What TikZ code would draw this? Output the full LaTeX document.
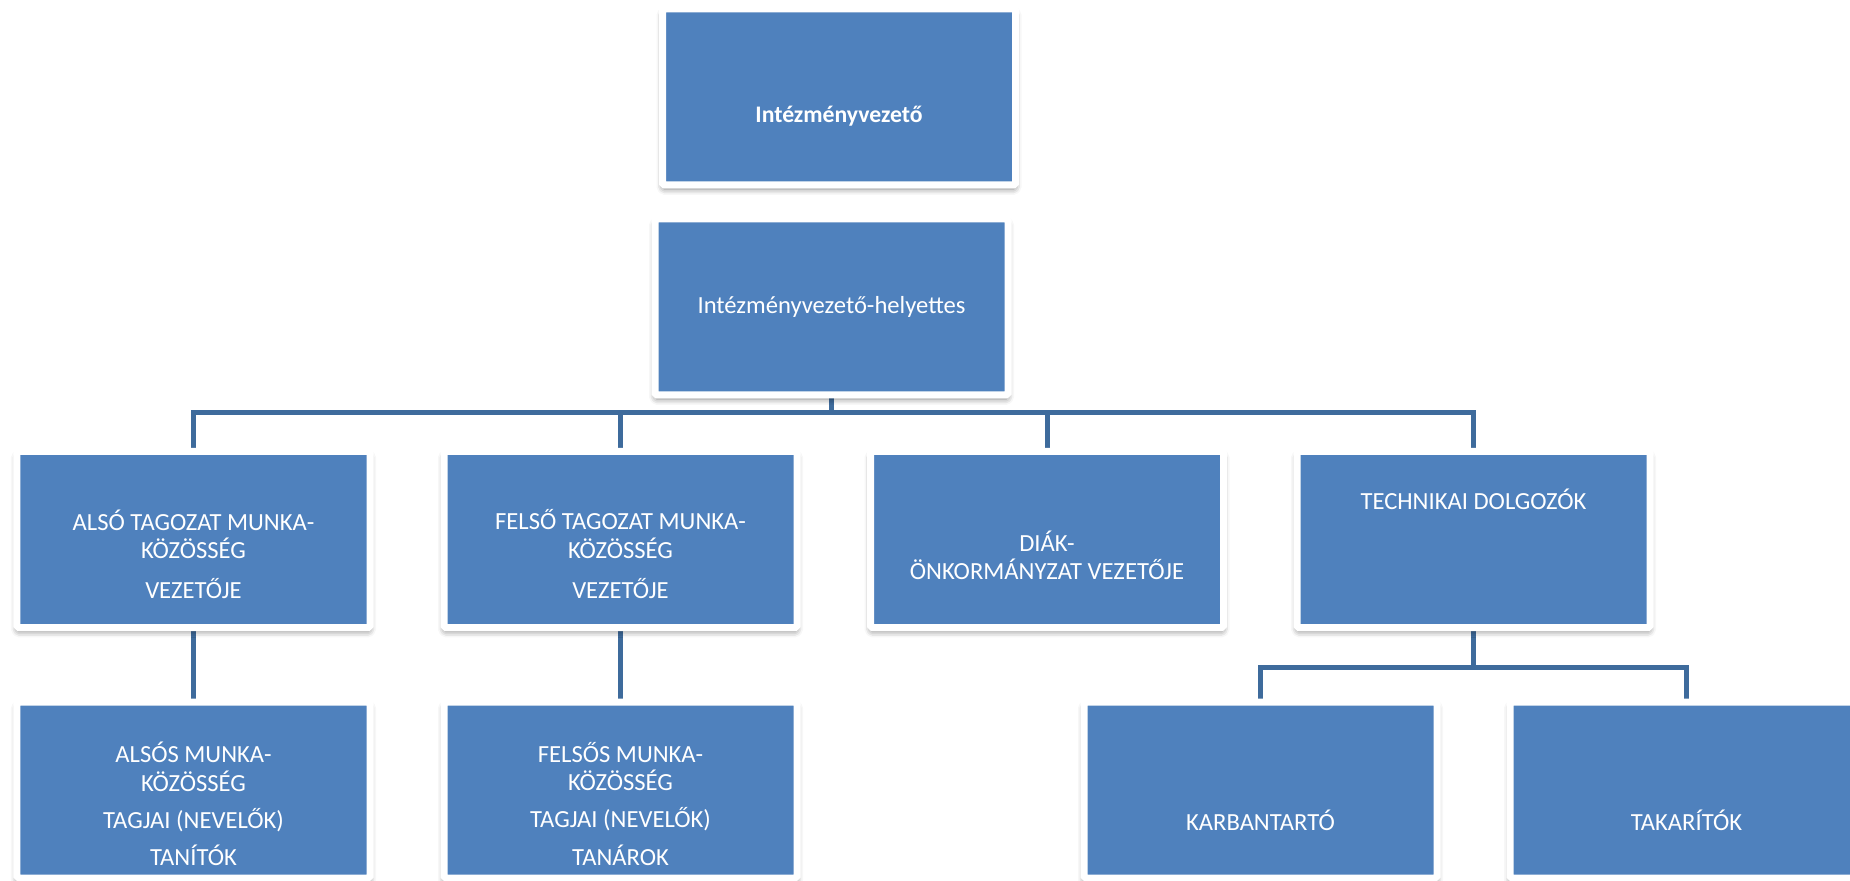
\documentclass[tikz,border=0pt]{standalone}
\usepackage{fontspec}
\setmainfont{Carlito}
\usetikzlibrary{shadows.blur,backgrounds}
\definecolor{boxblue}{RGB}{79,129,189}
\definecolor{linkblue}{RGB}{62,107,156}
\newcommand{\boxtext}[2]{\raisebox{#1}[0pt][0pt]{\begin{tabular}{@{}c@{}}#2\end{tabular}}}

\begin{document}
\begin{tikzpicture}[
  unit/.style={draw=white, line width=0.14cm, fill=boxblue, rounded corners=1pt,
    text=white, font=\fontsize{14}{15}\selectfont,
    minimum width=7.06cm, minimum height=3.52cm, inner sep=0pt,
    blur shadow={shadow xshift=0pt, shadow yshift=-0.08cm,
      shadow blur radius=0.12cm, shadow opacity=50}},
  conn/.style={draw=linkblue, line width=0.1cm}]
\useasboundingbox (0,0) rectangle (37,17.6);
% Top: head of institution and deputy
\node[unit, font=\fontsize{13.5}{15}\selectfont\bfseries]
  (vez) at (16.78,15.66) {\boxtext{-0.53cm}{Intézményvezető}};
\node[unit] (hely) at (16.63,11.46) {\boxtext{-0.16cm}{Intézményvezető-helyettes}};
% Middle row
\node[unit] (also) at (3.87,6.81)
  {\boxtext{-0.5cm}{ALSÓ TAGOZAT MUNKA-\\KÖZÖSSÉG\\[7pt]VEZETŐJE}};
\node[unit] (felso) at (12.41,6.81)
  {\boxtext{-0.5cm}{FELSŐ TAGOZAT MUNKA-\\KÖZÖSSÉG\\[7pt]VEZETŐJE}};
\node[unit] (diak) at (20.94,6.81)
  {\boxtext{-0.52cm}{DIÁK-\\ÖNKORMÁNYZAT VEZETŐJE}};
\node[unit] (tech) at (29.47,6.81) {\boxtext{0.6cm}{TECHNIKAI DOLGOZÓK}};
% Bottom row
\node[unit] (alsos) at (3.87,1.80)
  {\boxtext{-0.48cm}{ALSÓS MUNKA-\\KÖZÖSSÉG\\[5pt]TAGJAI (NEVELŐK)\\[5pt]TANÍTÓK}};
\node[unit] (felsos) at (12.41,1.80)
  {\boxtext{-0.48cm}{FELSŐS MUNKA-\\KÖZÖSSÉG\\[5pt]TAGJAI (NEVELŐK)\\[5pt]TANÁROK}};
\node[unit] (karb) at (25.21,1.80) {\boxtext{-0.82cm}{KARBANTARTÓ}};
\node[unit] (takar) at (33.73,1.80) {\boxtext{-0.82cm}{TAKARÍTÓK}};
% Connectors
\begin{scope}[on background layer]
\coordinate (bus) at (16.63,9.34);
\draw[conn] (hely.south) -- (bus);
\foreach \n in {also,felso,diak,tech}
  \draw[conn] (bus) -| (\n.north);
\draw[conn] (also) -- (alsos);
\draw[conn] (felso) -- (felsos);
\coordinate (bus2) at (29.47,4.26);
\draw[conn] (tech.south) -- (bus2);
\foreach \n in {karb,takar}
  \draw[conn] (bus2) -| (\n.north);
\end{scope}
\end{tikzpicture}
\end{document}
